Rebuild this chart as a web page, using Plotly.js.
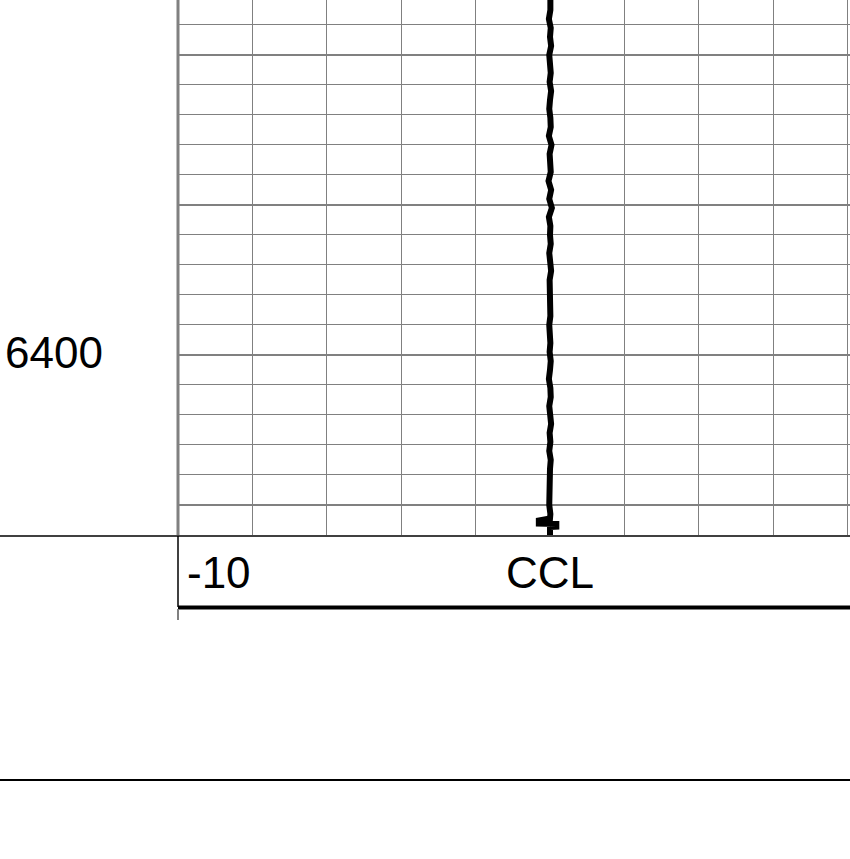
<!DOCTYPE html>
<html>
<head>
<meta charset="utf-8">
<script src="https://cdn.plot.ly/plotly-3.0.1.min.js"></script>
<style>html,body{margin:0;padding:0;background:#fff;}#chart{width:850px;height:859px;}</style>
</head>
<body>
<div id="chart"></div>
<script>
// Depth (ft) samples of the CCL curve
const depth = [
  6281, 6282, 6285, 6288, 6291, 6294, 6297, 6300, 6303, 6306, 6309,
  6312, 6315, 6318, 6321, 6324, 6327, 6330, 6333, 6336, 6339,
  6342, 6345, 6348, 6351, 6354, 6357, 6360, 6363, 6366, 6369,
  6372, 6375, 6378, 6381, 6384, 6387, 6390, 6393, 6396, 6399,
  6402, 6405, 6408, 6411, 6414, 6417, 6420, 6423, 6426, 6429,
  6432, 6435, 6438, 6441, 6444, 6447, 6450, 6453,
  6454.5, 6455.2, 6456.2, 6456.3, 6457.2, 6457.3, 6460
];
// CCL readings
const ccl = [
  0.01, 0.02, 0.01, -0.03, 0.02, 0.00, 0.03, -0.02, 0.01, 0.02, -0.01,
  0.03, 0.00, -0.02, 0.01, 0.02, -0.03, 0.04, -0.01, 0.00, 0.02,
  -0.04, 0.03, -0.02, 0.05, -0.03, 0.01, 0.00, 0.02, -0.02, 0.01,
  0.03, -0.01, 0.00, -0.03, 0.02, 0.01, -0.02, 0.00, 0.01, -0.01,
  0.02, 0.00, -0.03, 0.01, 0.02, -0.02, 0.00, 0.03, -0.01, 0.01,
  -0.02, 0.02, 0.00, -0.01, 0.01, 0.00, -0.02, 0.01,
  0.00, -0.30, -0.30, 0.17, 0.17, 0.00, 0.00
];
const trackName = "CCL";
const scaleLeft = "-10";
const depthLabel = "6400";
const depthLabelValue = 6400;

const W = 850, H = 859;
const L = 178, PW = 672, PH = 535;
const px = v => (v - L) / PW;          // pixel x -> paper x
const py = v => (PH - v) / PH;         // pixel y -> paper y
const FONT = "Liberation Sans, Arial, sans-serif";

const trace = {
  x: ccl, y: depth, type: "scatter", mode: "lines",
  line: {color: "#000000", width: 6}, hoverinfo: "skip", showlegend: false
};

const layout = {
  width: W, height: H,
  margin: {l: L, r: 0, t: 0, b: H - PH, pad: 0},
  paper_bgcolor: "#ffffff", plot_bgcolor: "#ffffff",
  showlegend: false,
  xaxis: {
    range: [-10, -10 + PW / 37.2], tick0: -10, dtick: 2,
    showgrid: true, gridcolor: "#808080", gridwidth: 1,
    zeroline: false, showline: false, showticklabels: false, ticks: "",
    fixedrange: true
  },
  yaxis: {
    range: [6281.67 + PH / 3, 6281.67], tick0: 6300, dtick: 50,
    showgrid: true, gridcolor: "#808080", gridwidth: 2,
    minor: {dtick: 10, showgrid: true, gridcolor: "#808080", gridwidth: 1, ticks: ""},
    zeroline: false, showline: false, showticklabels: false, ticks: "",
    fixedrange: true
  },
  shapes: [
    {type: "line", xref: "paper", yref: "paper", x0: 0, x1: 0, y0: 0, y1: 1,
     line: {color: "#808080", width: 3}},
    {type: "line", xref: "paper", yref: "paper", x0: px(0), x1: 1, y0: py(536), y1: py(536),
     line: {color: "#000000", width: 1.5}},
    {type: "line", xref: "paper", yref: "paper", x0: 0, x1: 0, y0: py(536), y1: py(607),
     line: {color: "#000000", width: 1.5}},
    {type: "line", xref: "paper", yref: "paper", x0: 0, x1: 1, y0: py(607.5), y1: py(607.5),
     line: {color: "#000000", width: 4}},
    {type: "line", xref: "paper", yref: "paper", x0: 0, x1: 0, y0: py(609), y1: py(620),
     line: {color: "#808080", width: 2}},
    {type: "line", xref: "paper", yref: "paper", x0: px(0), x1: 1, y0: py(780), y1: py(780),
     line: {color: "#000000", width: 2}}
  ],
  annotations: [
    {text: depthLabel, xref: "paper", yref: "y", x: px(3), y: depthLabelValue,
     xanchor: "left", yanchor: "middle", yshift: 2, showarrow: false,
     font: {family: FONT, size: 44, color: "#000000"}},
    {text: scaleLeft, xref: "paper", yref: "paper", x: px(185), y: py(572),
     xanchor: "left", yanchor: "middle", showarrow: false,
     font: {family: FONT, size: 44, color: "#000000"}},
    {text: trackName, xref: "paper", yref: "paper", x: px(550), y: py(572),
     xanchor: "center", yanchor: "middle", showarrow: false,
     font: {family: FONT, size: 44, color: "#000000"}}
  ]
};

Plotly.newPlot("chart", [trace], layout, {staticPlot: true, displayModeBar: false});
</script>
</body>
</html>
